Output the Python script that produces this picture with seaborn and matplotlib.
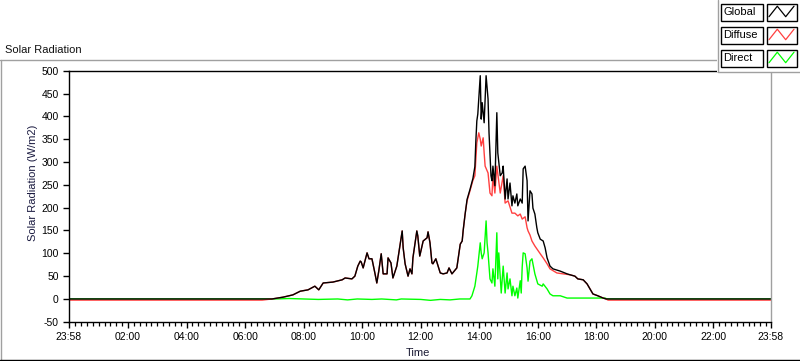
import numpy as np
import pandas as pd
import matplotlib
matplotlib.use("Agg")
import matplotlib.pyplot as plt
import seaborn as sns
from matplotlib.patches import Rectangle
from matplotlib.lines import Line2D

# ---------------- data (clock times, W/m2) ----------------
global_times = ["23:58", "06:55", "07:18", "07:38", "07:53", "08:09", "08:23", "08:31", "08:40",
                "09:00", "09:19", "09:25", "09:39", "09:45", "09:51", "09:56", "09:58", "10:02",
                "10:10", "10:14", "10:20", "10:26", "10:30", "10:34", "10:39", "10:43", "10:51",
                "10:53", "10:59", "11:03", "11:11", "11:22", "11:24", "11:28", "11:34", "11:38",
                "11:42", "11:44", "11:52", "11:54", "11:58", "12:05", "12:13", "12:15", "12:19",
                "12:23", "12:25", "12:31", "12:40", "12:46", "12:54", "12:58", "13:04", "13:14",
                "13:21", "13:25", "13:27", "13:31", "13:35", "13:41", "13:47", "13:51", "13:53",
                "13:55", "13:57", "14:02", "14:04", "14:06", "14:10", "14:14", "14:18", "14:20",
                "14:24", "14:26", "14:28", "14:32", "14:36", "14:38", "14:43", "14:47", "14:49",
                "14:53", "14:57", "14:59", "15:03", "15:07", "15:09", "15:13", "15:17", "15:19",
                "15:24", "15:28", "15:30", "15:34", "15:38", "15:40", "15:44", "15:48", "15:50",
                "15:54", "15:58", "16:00", "16:05", "16:11", "16:15", "16:19", "16:25", "16:31",
                "16:46", "17:00", "17:06", "17:16", "17:22", "17:33", "17:41", "17:47", "17:53",
                "18:03", "18:14", "18:20", "23:58"]
global_vals = [0, 0, 4, 9, 17, 20, 28, 20, 35,
               37, 42, 46, 44, 50, 72, 83, 81, 68,
               101, 88, 88, 57, 35, 61, 99, 55, 55,
               90, 79, 46, 72, 149, 112, 77, 50, 66,
               55, 90, 149, 138, 94, 127, 134, 147, 123,
               79, 77, 88, 57, 55, 57, 68, 55, 68,
               120, 127, 150, 186, 218, 240, 264, 290, 346,
               390, 405, 489, 394, 430, 386, 489, 438, 364,
               270, 259, 291, 248, 408, 320, 270, 276, 291,
               219, 263, 219, 254, 204, 226, 210, 230, 204,
               219, 210, 285, 291, 259, 171, 237, 230, 199,
               186, 156, 145, 131, 127, 112, 90, 72, 66,
               61, 55, 53, 50, 44, 42, 33, 22, 11,
               7, 2, 0, 0]

diffuse_times = ["23:58", "06:35", "06:55", "07:18", "07:38", "07:53", "08:09", "08:23", "08:31",
                 "08:40", "09:00", "09:19", "09:25", "09:39", "09:45", "09:51", "09:56", "09:58",
                 "10:02", "10:10", "10:14", "10:20", "10:26", "10:30", "10:34", "10:39", "10:43",
                 "10:51", "10:53", "10:59", "11:03", "11:11", "11:22", "11:24", "11:28", "11:34",
                 "11:38", "11:42", "11:44", "11:52", "11:54", "11:58", "12:05", "12:13", "12:15",
                 "12:19", "12:23", "12:25", "12:31", "12:40", "12:46", "12:54", "12:58", "13:04",
                 "13:14", "13:21", "13:25", "13:27", "13:31", "13:35", "13:41", "13:47", "13:51",
                 "13:55", "13:59", "14:02", "14:04", "14:08", "14:10", "14:12", "14:18", "14:22",
                 "14:26", "14:28", "14:32", "14:36", "14:43", "14:49", "14:53", "14:59", "15:07",
                 "15:13", "15:19", "15:24", "15:28", "15:34", "15:38", "15:40", "15:44", "15:48",
                 "15:54", "16:05", "16:11", "16:19", "16:25", "16:39", "16:52", "17:06", "17:16",
                 "17:22", "17:33", "17:41", "17:47", "17:53", "18:03", "18:14", "18:20", "18:24",
                 "23:58"]
diffuse_vals = [-2.5, -2.5, 0, 4, 9, 17, 20, 28, 20,
                35, 37, 42, 46, 44, 50, 72, 83, 81,
                68, 101, 88, 88, 57, 35, 61, 99, 55,
                55, 90, 79, 46, 72, 149, 112, 77, 50,
                66, 55, 90, 149, 138, 94, 127, 134, 147,
                123, 79, 77, 88, 57, 55, 57, 68, 55,
                68, 120, 127, 150, 186, 215, 237, 260, 270,
                342, 364, 350, 335, 353, 320, 291, 276, 232,
                226, 270, 232, 291, 232, 270, 210, 215, 188,
                188, 182, 186, 175, 180, 156, 149, 140, 127,
                116, 99, 90, 77, 66, 57, 55, 53, 50,
                44, 42, 33, 22, 11, 7, 2, 0, -2.5,
                -2.5]

direct_times = ["23:58", "06:35", "07:00", "07:30", "08:00", "08:30", "09:10", "09:30", "09:50",
                "10:20", "10:40", "11:10", "11:20", "12:00", "12:20", "12:40", "13:00", "13:20",
                "13:41", "13:45", "13:51", "13:55", "13:57", "14:02", "14:04", "14:06", "14:10",
                "14:14", "14:16", "14:18", "14:22", "14:26", "14:28", "14:32", "14:36", "14:38",
                "14:40", "14:45", "14:49", "14:53", "14:57", "14:59", "15:03", "15:07", "15:09",
                "15:13", "15:17", "15:19", "15:24", "15:26", "15:28", "15:30", "15:34", "15:38",
                "15:40", "15:44", "15:48", "15:50", "15:54", "16:00", "16:09", "16:11", "16:19",
                "16:25", "16:31", "16:46", "17:00", "18:18", "18:22", "23:58"]
direct_vals = [0, 0, 0, 1, 0, -1, 0, -2, 0,
               -1, 0, -2, 0, -1, -3, -1, -2, 0,
               0, 7, 28, 57, 72, 123, 101, 88, 101,
               171, 123, 101, 44, 35, 66, 28, 145, 44,
               101, 13, 72, 13, 57, 22, 44, 7, 28,
               7, 24, 2, 40, 13, 70, 101, 99, 68,
               39, 83, 88, 77, 55, 33, 28, 33, 22,
               11, 7, 7, 2, 2, 0, 0]

x_tick_labels = ["23:58", "02:00", "04:00", "06:00", "08:00", "10:00", "12:00",
                 "14:00", "16:00", "18:00", "20:00", "22:00", "23:58"]
series_names = ["Global", "Diffuse", "Direct"]


def to_hours(times):
    m = np.array([int(t[:2]) * 60 + int(t[3:]) for t in times], float)
    h = ((m - (23 * 60 + 58)) % 1440) / 60.0
    tail = h[1:]
    tail[tail == 0] = 24.0
    return h


colors = {"Global": "#000000", "Diffuse": "#FF4040", "Direct": "#00FF00"}

df = pd.concat([
    pd.DataFrame({"hours": to_hours(direct_times), "value": direct_vals, "series": "Direct"}),
    pd.DataFrame({"hours": to_hours(diffuse_times), "value": diffuse_vals, "series": "Diffuse"}),
    pd.DataFrame({"hours": to_hours(global_times), "value": global_vals, "series": "Global"}),
], ignore_index=True)

# ---------------- figure ----------------
sns.set_style("white")
plt.rcParams["font.family"] = ["Liberation Sans", "DejaVu Sans"]
plt.rcParams["axes.unicode_minus"] = False

W, H = 800, 361
fig = plt.figure(figsize=(W / 100, H / 100), dpi=100)
fig.patch.set_facecolor("white")

ax_l, ax_r, ax_t, ax_b = 68.5, 771.0, 70.7, 321.8
ax = fig.add_axes([ax_l / W, 1 - ax_b / H, (ax_r - ax_l) / W, (ax_b - ax_t) / H])
ax.set_facecolor("white")

for name in ["Direct", "Diffuse", "Global"]:
    sub = df[df["series"] == name]
    sns.lineplot(data=sub, x="hours", y="value", ax=ax, color=colors[name],
                 linewidth=1.0, estimator=None, sort=False, legend=False)

ax.set_xlim(0, 24)
ax.set_ylim(-50, 500)
major = [0] + [2 * k + 2 / 60 for k in range(1, 12)] + [24]
ax.set_xticks(major)
ax.set_xticklabels(x_tick_labels)
minor = [2 / 60 + 0.2 * k for k in range(1, 120)]
ax.set_xticks([m for m in minor if m < 24], minor=True)
ax.set_yticks(range(-50, 501, 50))

ax.tick_params(axis="both", which="major", direction="out", length=4.5, width=1.0,
               color="black", labelsize=7.5, labelcolor="black", pad=2.5,
               bottom=True, left=True)
ax.tick_params(axis="x", which="minor", direction="out", length=2.6, width=0.9,
               color="black", bottom=True)

for s in ["left", "bottom", "top"]:
    ax.spines[s].set_color("black")
    ax.spines[s].set_linewidth(1.0)
ax.spines["right"].set_color("#A0A0A0")
ax.spines["right"].set_linewidth(1.0)

ax.set_xlabel("Time", fontsize=8, color="#1a1a33")
ax.set_ylabel("Solar Radiation (W/m2)", fontsize=8, color="#1a1a40")
ax.xaxis.set_label_coords(0.497, (ax_b - 347.5) / (ax_b - ax_t))
ax.yaxis.set_label_coords((38.5 - ax_l) / (ax_r - ax_l), (ax_b - 183) / (ax_b - ax_t))

# ---------------- panel decoration ----------------
def fx(x):
    return x / W


def fy(y):
    return 1 - y / H


fig.text(fx(5), fy(50), "Solar Radiation", fontsize=8, ha="left", va="center", color="#111111")

fig.add_artist(Line2D([fx(0), fx(717)], [fy(60), fy(60)], color="#A0A0A0", lw=1.0))
fig.add_artist(Line2D([fx(1), fx(1)], [fy(60), fy(361)], color="#A0A0A0", lw=1.0))
fig.add_artist(Line2D([fx(0), fx(800)], [fy(359.5), fy(359.5)], color="black", lw=1.0))

# legend panel (white, grey left and bottom border)
fig.add_artist(Rectangle((fx(717), fy(72)), fx(83), 72 / H, transform=fig.transFigure,
                         facecolor="white", edgecolor="none", zorder=5))
fig.add_artist(Line2D([fx(717.5), fx(717.5), fx(800)], [fy(0), fy(72), fy(72)],
                      color="#A0A0A0", lw=1.0, zorder=5.5))
row_tops = [3.5, 26.5, 49.5]
for name, top in zip(series_names, row_tops):
    fig.add_artist(Rectangle((fx(720.5), fy(top + 17)), fx(42.5), 17 / H,
                             transform=fig.transFigure, facecolor="white",
                             edgecolor="black", lw=1.0, zorder=6))
    fig.add_artist(Rectangle((fx(766.5), fy(top + 17)), fx(30), 17 / H,
                             transform=fig.transFigure, facecolor="white",
                             edgecolor="black", lw=1.0, zorder=6))
    fig.text(fx(723), fy(top + 8.8), name, fontsize=8, ha="left", va="center",
             color="black", zorder=7)
    zx = [769, 777.3, 785.7, 794]
    zy = [top + 13.2, top + 2.7, top + 13.2, top + 2.7]
    fig.add_artist(Line2D([fx(v) for v in zx], [fy(v) for v in zy],
                          color=colors[name], lw=0.9, zorder=7))

fig.savefig("out.png", dpi=100, facecolor="white")
